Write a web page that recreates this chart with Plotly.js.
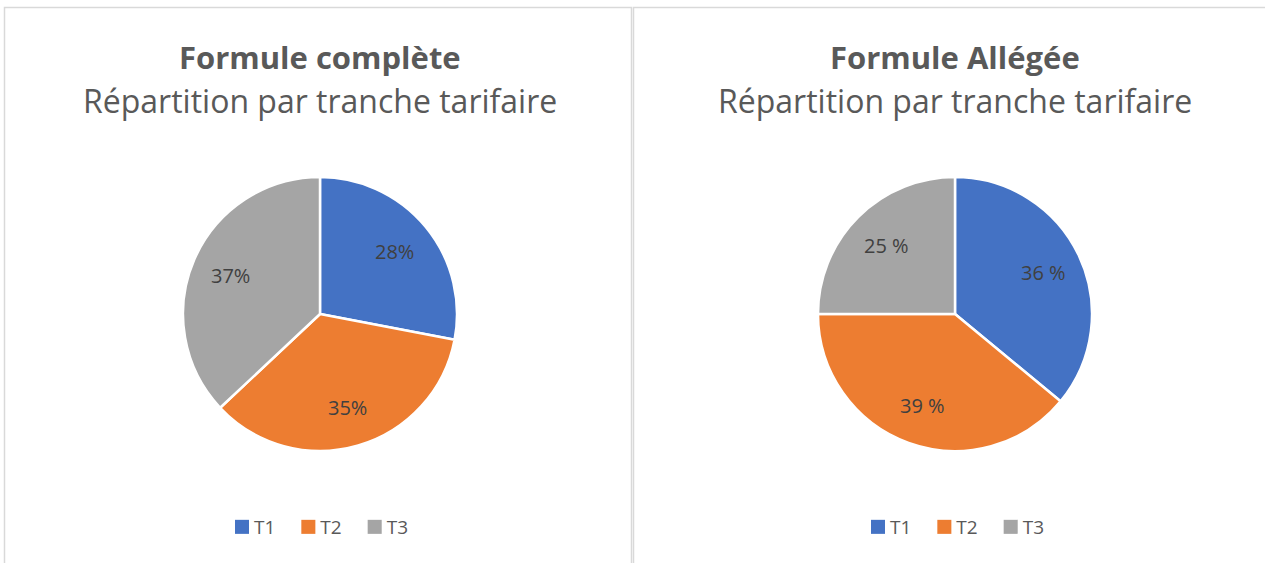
<!DOCTYPE html>
<html>
<head>
<meta charset="utf-8">
<script src="https://cdn.plot.ly/plotly-3.0.1.min.js"></script>
<style>
html,body{margin:0;padding:0;background:#fff;}
#chart{width:1265px;height:563px;}
</style>
</head>
<body>
<div id="chart"></div>
<script>
const categories = ["T1", "T2", "T3"];
const valuesComplete = [28, 35, 37];
const valuesAllegee = [36, 39, 25];
const labelsComplete = ["28%", "35%", "37%"];
const labelsAllegee = ["36 %", "39 %", "25 %"];
const titleComplete = "Formule complète";
const titleAllegee = "Formule Allégée";
const subtitle = "Répartition par tranche tarifaire";
const colors = ["#4472C4", "#ED7D31", "#A5A5A5"];

const W = 1265, H = 563;
const px = v => v / W;
const py = v => 1 - v / H;
const R = 137;
const pies = [
  {values: valuesComplete, labels: labelsComplete, title: titleComplete, cx: 320, cy: 314, legend: "legend", group: "a"},
  {values: valuesAllegee, labels: labelsAllegee, title: titleAllegee, cx: 955, cy: 314, legend: "legend2", group: "b"}
];

function pieDomain(cx, cy, r) {
  return {x: [px(cx - r), px(cx + r)], y: [py(cy + r), py(cy - r)]};
}

const traces = pies.map(p => ({
  type: "pie",
  labels: categories,
  values: p.values,
  sort: false,
  direction: "clockwise",
  rotation: 0,
  marker: {colors: colors, line: {color: "#ffffff", width: 2.5}},
  textinfo: "none",
  hoverinfo: "label+percent",
  domain: pieDomain(p.cx, p.cy, R),
  legend: p.legend,
  legendgroup: p.group
}));

const annotations = [];
pies.forEach(p => {
  const total = p.values.reduce((a, b) => a + b, 0);
  let cum = 0;
  p.values.forEach((v, i) => {
    const mid = (cum + v / 2) / total;
    cum += v;
    const th = 2 * Math.PI * mid;
    const x = p.cx + 0.71 * R * Math.sin(th);
    const y = p.cy - 0.71 * R * Math.cos(th);
    annotations.push({
      text: p.labels[i], x: px(x), y: py(y), xref: "paper", yref: "paper",
      showarrow: false, xanchor: "center", yanchor: "middle",
      font: {family: "Open Sans", size: 20, color: "#404040"}
    });
  });
  annotations.push({
    text: "<b>" + p.title + "</b>", x: px(p.cx), y: py(57), xref: "paper", yref: "paper",
    showarrow: false, xanchor: "center", yanchor: "middle",
    font: {family: "Open Sans", size: 31, color: "#595959"}
  });
  annotations.push({
    text: subtitle, x: px(p.cx), y: py(101), xref: "paper", yref: "paper",
    showarrow: false, xanchor: "center", yanchor: "middle",
    font: {family: "Open Sans", size: 32, color: "#595959"}
  });
});

const legendBase = {
  orientation: "h",
  traceorder: "normal",
  xanchor: "center",
  yanchor: "middle",
  y: py(527),
  font: {family: "Open Sans", size: 19, color: "#595959"},
  bgcolor: "rgba(0,0,0,0)",
  itemclick: false,
  itemdoubleclick: false
};

const layout = {
  width: W,
  height: H,
  margin: {l: 0, r: 0, t: 0, b: 0},
  paper_bgcolor: "#ffffff",
  showlegend: true,
  legend: Object.assign({}, legendBase, {x: px(314)}),
  legend2: Object.assign({}, legendBase, {x: px(950)}),
  annotations: annotations,
  shapes: [
    {type: "rect", xref: "paper", yref: "paper", x0: px(4.5), x1: px(631.5), y0: py(575), y1: py(7.5),
     line: {color: "#d9d9d9", width: 1.5}},
    {type: "rect", xref: "paper", yref: "paper", x0: px(633.5), x1: px(1275), y0: py(575), y1: py(7.5),
     line: {color: "#d9d9d9", width: 1.5}}
  ]
};

Plotly.newPlot("chart", traces, layout, {displayModeBar: false}).then(gd => {
  // Excel-like legend keys: larger solid squares, closer to their text
  gd.querySelectorAll("path.legendpie").forEach(p => {
    p.setAttribute("transform", "translate(28,0) scale(1.17)");
    p.style.strokeWidth = "0px";
  });
});
</script>
</body>
</html>
